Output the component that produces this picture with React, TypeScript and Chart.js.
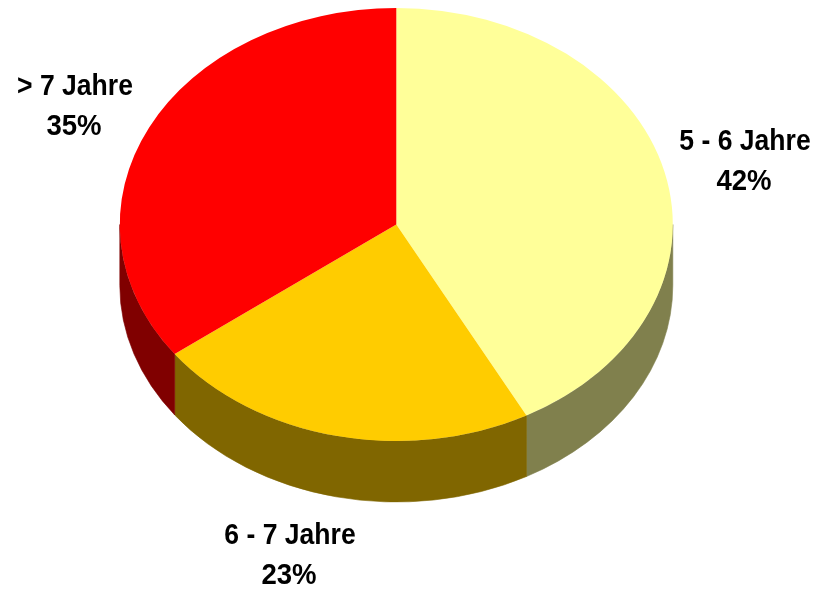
import React, { useEffect, useRef } from "react";
import { Chart, registerables } from "chart.js";

Chart.register(...registerables);

const categories = ["5 - 6 Jahre", "6 - 7 Jahre", "> 7 Jahre"];
const percentLabels = ["42%", "23%", "35%"];
const values = [42.2, 22.6, 35.2];
const topColors = ["#FFFF99", "#FFCC00", "#FF0000"];
const sideColors = ["#80804D", "#806600", "#800000"];

const CENTER_Y = 224.5;
const SQUASH = 216.5 / 276.5;
const DEPTH = 61;
const NAME_STRETCH = 0.915;
const PERCENT_STRETCH = 0.95;
const labelPlaces = [
  { x: 745, y: 142 },
  { x: 290, y: 536 },
  { x: 75, y: 87 },
];

const tiltPlugin = {
  id: "tilt",
  beforeDatasetsDraw(chart: any) {
    const ctx = chart.ctx;
    const arcs = chart.getDatasetMeta(0).data;
    arcs.forEach((arc: any, i: number) => {
      const from = Math.max(arc.startAngle, 0);
      const to = Math.min(arc.endAngle, Math.PI);
      if (to <= from) return;
      const rx = arc.outerRadius;
      const ry = arc.outerRadius * SQUASH;
      ctx.save();
      ctx.beginPath();
      ctx.ellipse(arc.x, CENTER_Y + DEPTH, rx, ry, 0, from, to);
      ctx.ellipse(arc.x, CENTER_Y, rx, ry, 0, to, from, true);
      ctx.closePath();
      ctx.fillStyle = sideColors[i];
      ctx.strokeStyle = sideColors[i];
      ctx.lineWidth = 0.6;
      ctx.fill();
      ctx.stroke();
      ctx.restore();
    });
    ctx.save();
    ctx.translate(0, CENTER_Y);
    ctx.scale(1, SQUASH);
    ctx.translate(0, -arcs[0].y);
  },
  afterDatasetsDraw(chart: any) {
    const ctx = chart.ctx;
    ctx.restore();
    ctx.save();
    ctx.fillStyle = "#000000";
    ctx.font = 'bold 29px "Liberation Sans"';
    ctx.textAlign = "center";
    ctx.textBaseline = "middle";
    categories.forEach((name, i) => {
      const p = labelPlaces[i];
      ctx.save();
      ctx.translate(p.x, p.y);
      ctx.scale(NAME_STRETCH, 1);
      ctx.fillText(name, 0, 0);
      ctx.restore();
      ctx.save();
      ctx.translate(p.x - 1, p.y + 40);
      ctx.scale(PERCENT_STRETCH, 1);
      ctx.fillText(percentLabels[i], 0, 0);
      ctx.restore();
    });
    ctx.restore();
  },
};

export default function App() {
  const ref = useRef<HTMLCanvasElement>(null);
  useEffect(() => {
    const chart = new Chart(ref.current as HTMLCanvasElement, {
      type: "pie",
      data: {
        labels: categories,
        datasets: [
          {
            data: values,
            backgroundColor: topColors,
            borderWidth: 0,
            clip: false,
          } as any,
        ],
      },
      options: {
        animation: false,
        responsive: false,
        events: [],
        radius: 276.5,
        layout: { padding: { right: 24.4 } },
        plugins: { legend: { display: false }, tooltip: { enabled: false } },
      } as any,
      plugins: [tiltPlugin],
    });
    return () => chart.destroy();
  }, []);
  return (
    <canvas
      ref={ref}
      width={817}
      height={589}
      style={{ position: "absolute", left: 0, top: 0, display: "block" }}
    />
  );
}
